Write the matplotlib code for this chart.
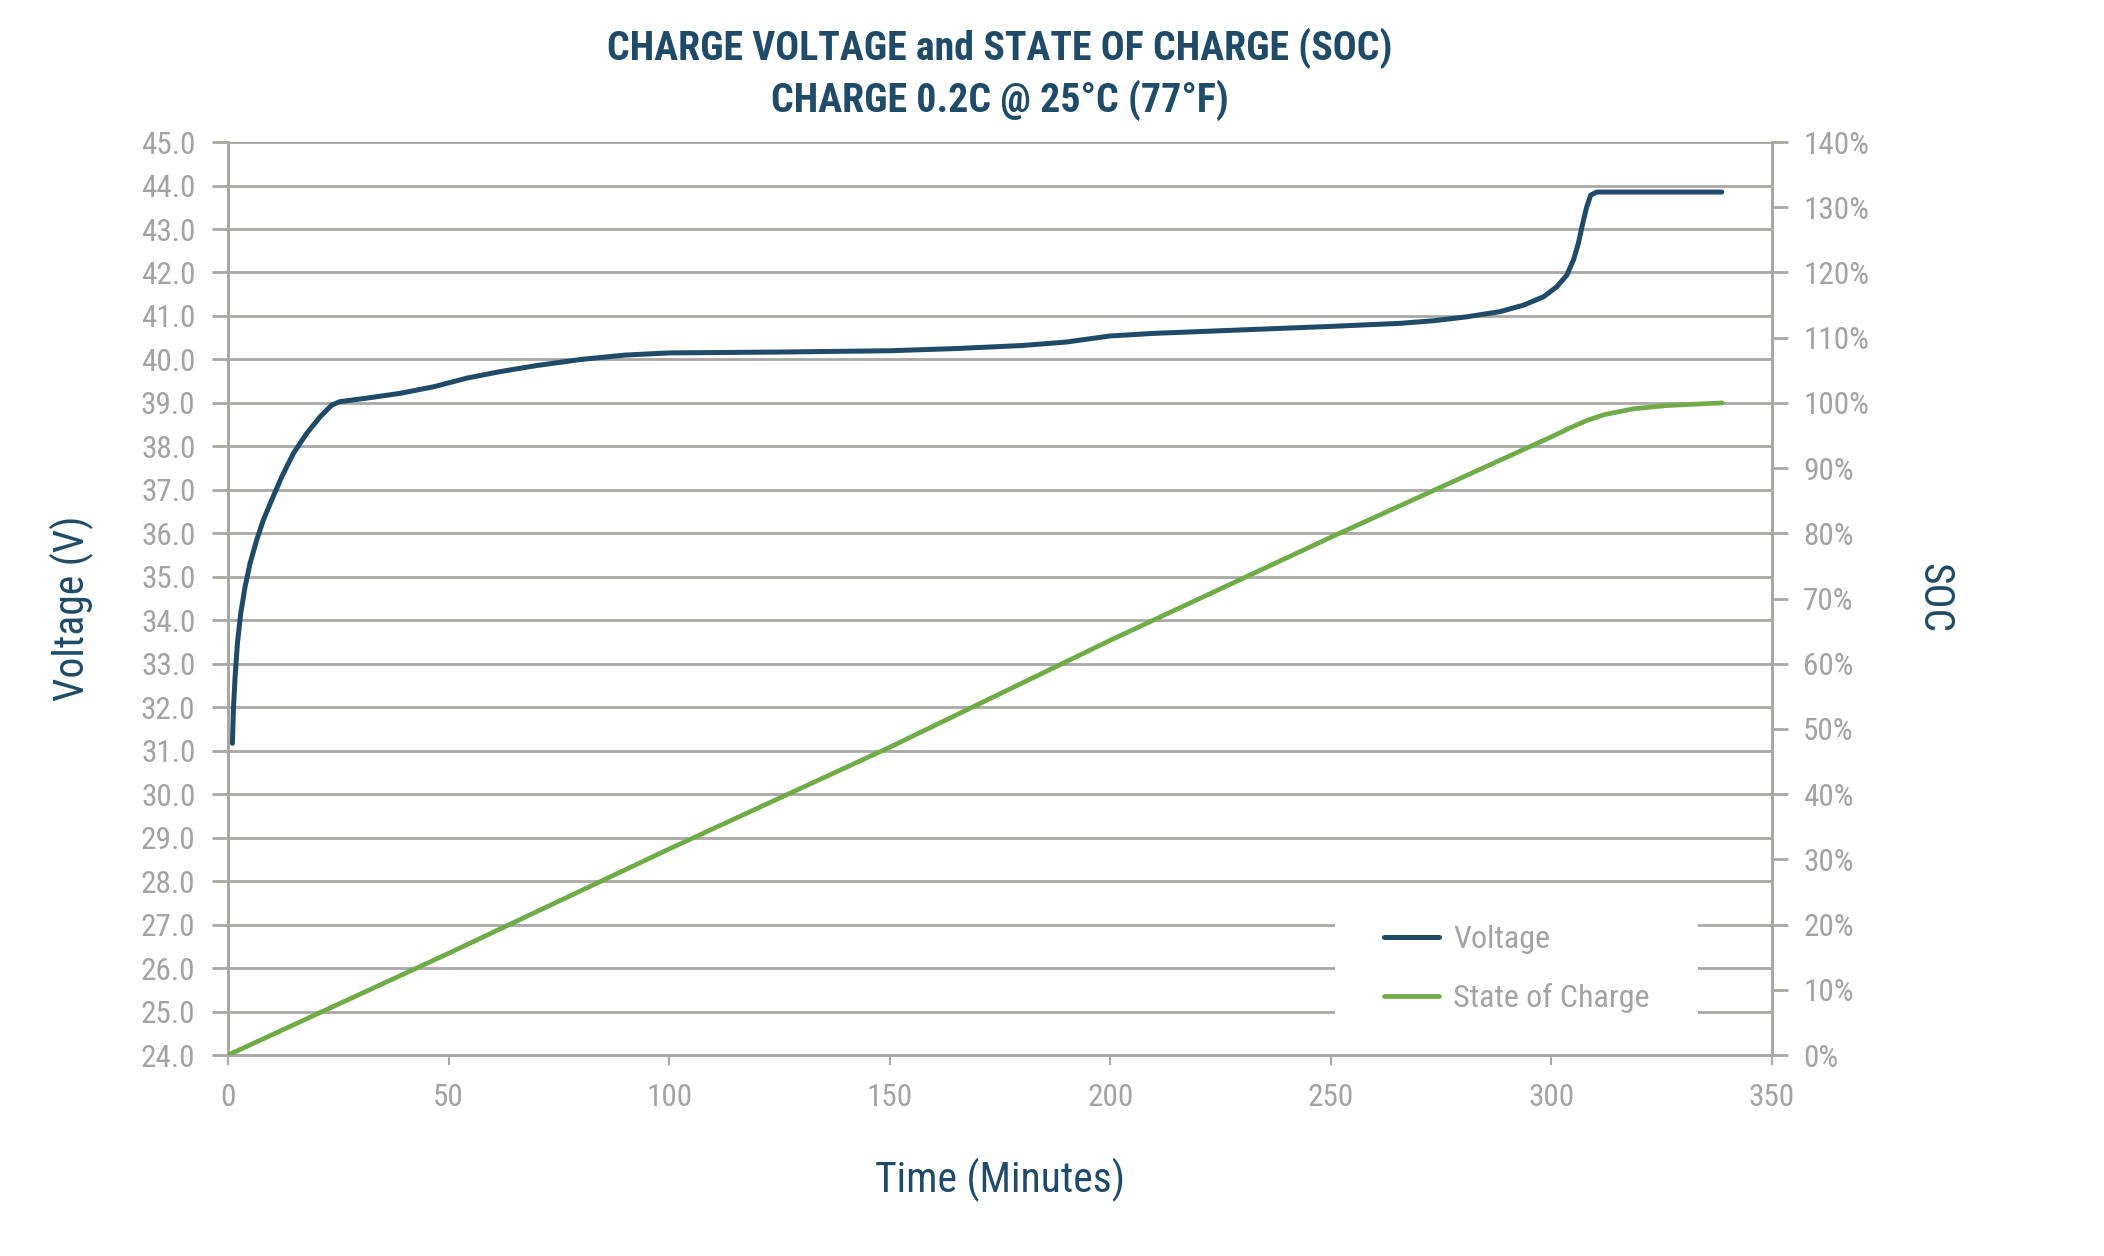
import matplotlib
matplotlib.use("Agg")
import matplotlib.pyplot as plt
import matplotlib.font_manager as fm
from matplotlib.patches import Rectangle
from matplotlib.ticker import FuncFormatter

# ---------------- data ----------------
volt_time = [0.98, 1.21, 1.59, 2.12, 2.87, 3.85, 4.99, 6.50, 8.01, 9.90, 12.17,
             14.81, 17.83, 20.86, 23.50, 25.39, 31.44, 38.99, 46.55, 54.11,
             61.66, 70, 80, 90, 100, 125, 150, 165, 180, 190, 200, 210, 230,
             250, 265.7, 273.3, 280.8, 288.4, 293.7, 298.2, 301.2, 303.5,
             305.0, 306.1, 307.1, 308.0, 308.9, 310.3, 338.6]
volt_values = [31.17, 31.94, 32.70, 33.47, 34.16, 34.77, 35.31, 35.85, 36.31,
               36.77, 37.30, 37.84, 38.30, 38.68, 38.95, 39.03, 39.11, 39.22,
               39.37, 39.57, 39.72, 39.86, 40.00, 40.10, 40.15, 40.17, 40.20,
               40.25, 40.32, 40.40, 40.54, 40.60, 40.68, 40.76, 40.83, 40.89,
               40.98, 41.10, 41.25, 41.44, 41.67, 41.94, 42.29, 42.67, 43.13,
               43.51, 43.78, 43.85, 43.85]
soc_time = [0, 50, 100, 150, 200, 250, 300, 304, 308, 312, 318.6, 326.2, 338.7]
soc_values = [0, 15.6, 31.6, 47.2, 63.6, 79.4, 94.8, 96.1, 97.3, 98.2, 99.1,
              99.6, 100]

x_ticks = [0, 50, 100, 150, 200, 250, 300, 350]
volt_ticks = [24 + i for i in range(22)]
soc_ticks = [10 * i for i in range(15)]

series_labels = ["Voltage", "State of Charge"]
title_lines = ["CHARGE VOLTAGE and STATE OF CHARGE (SOC)",
               "CHARGE 0.2C @ 25\u00b0C (77\u00b0F)"]
x_label = "Time (Minutes)"
y_label = "Voltage (V)"
y2_label = "SOC"

# ---------------- fonts ----------------
names = {f.name for f in fm.fontManager.ttflist}
cond_family = None
cond_stretch = "normal"
for cand in ["Roboto Condensed", "Liberation Sans Narrow", "Open Sans Condensed",
             "Noto Sans Condensed", "DejaVu Sans Condensed"]:
    if cand in names:
        cond_family = cand
        break
if cond_family is None:
    has_dv_cond = any(f.name == "DejaVu Sans" and f.stretch in ("condensed", "semi-condensed")
                      for f in fm.fontManager.ttflist)
    cond_family = "DejaVu Sans"
    cond_stretch = "condensed" if has_dv_cond else "normal"

NAVY = "#1f4b68"
GREEN = "#6fac47"
GRID = "#a9a8a4"
TICKC = "#a3a3a3"

def fp(size, weight="normal"):
    return fm.FontProperties(family=cond_family, stretch=cond_stretch,
                             size=size, weight=weight)

fig = plt.figure(figsize=(21.04, 12.56), dpi=100)
fig.patch.set_facecolor("white")
ax = fig.add_axes([0.1084, 0.16, 0.8422 - 0.1084, 0.8869 - 0.16])
ax2 = ax.twinx()

ax.set_xlim(0, 350)
ax.set_ylim(24, 45)
ax2.set_ylim(0, 140)

ax.set_xticks(x_ticks)
ax.set_yticks(volt_ticks)
ax2.set_yticks(soc_ticks)
ax.yaxis.set_major_formatter(FuncFormatter(lambda v, p: f"{v:.1f}"))
ax2.yaxis.set_major_formatter(FuncFormatter(lambda v, p: f"{v:.0f}%"))

ax.grid(axis="y", color=GRID, linewidth=2.0, zorder=0)
ax.set_axisbelow(True)

for a in (ax, ax2):
    a.spines["top"].set_visible(False)
    for s in ("left", "right", "bottom"):
        a.spines[s].set_color(GRID)
        a.spines[s].set_linewidth(2.0)

ax.tick_params(axis="y", direction="out", length=11.5, width=2.0, color=GRID,
               labelcolor=TICKC, pad=12)
ax.tick_params(axis="x", direction="out", length=7, width=1.5, color=GRID,
               labelcolor=TICKC, pad=13)
ax2.tick_params(axis="y", direction="out", length=11.5, width=2.0, color=GRID,
                labelcolor=TICKC, pad=11)
for lbl in ax.get_xticklabels() + ax.get_yticklabels() + ax2.get_yticklabels():
    lbl.set_fontproperties(fp(22.5))

# lines
lv, = ax.plot(volt_time, volt_values, color=NAVY, linewidth=3.6,
              solid_capstyle="round", solid_joinstyle="round", zorder=5,
              label=series_labels[0])
ls, = ax2.plot(soc_time, soc_values, color=GREEN, linewidth=3.4,
               solid_capstyle="round", solid_joinstyle="round", zorder=5,
               label=series_labels[1])

# legend area (white box over gridlines)
ax.add_patch(Rectangle((0.717, 0.016), 0.235, 0.152, transform=ax.transAxes,
                       facecolor="white", edgecolor="none", zorder=1))
leg = ax2.legend(handles=[lv, ls], loc="center left",
                 bbox_to_anchor=(0.749, 0.094), frameon=False,
                 borderpad=0, borderaxespad=0, handlelength=1.7,
                 handletextpad=0.45, labelspacing=0.9, prop=fp(23))
for t in leg.get_texts():
    t.set_color(TICKC)

# axis labels
fig.text(0.0342, 0.516, y_label, rotation=90, ha="center", va="center",
         fontproperties=fp(30), color=NAVY)
fig.text(0.919, 0.524, y2_label, rotation=270, ha="center", va="center",
         fontproperties=fp(30), color=NAVY)
fig.text(0.4753, 0.0605, x_label, ha="center", va="center",
         fontproperties=fp(30), color=NAVY)

# title
fig.text(0.4753, 0.9615, title_lines[0], ha="center", va="center",
         fontproperties=fp(28.7, "bold"), color=NAVY)
fig.text(0.4753, 0.9205, title_lines[1], ha="center", va="center",
         fontproperties=fp(28.7, "bold"), color=NAVY)

fig.savefig("out.png", dpi=100, facecolor="white")
